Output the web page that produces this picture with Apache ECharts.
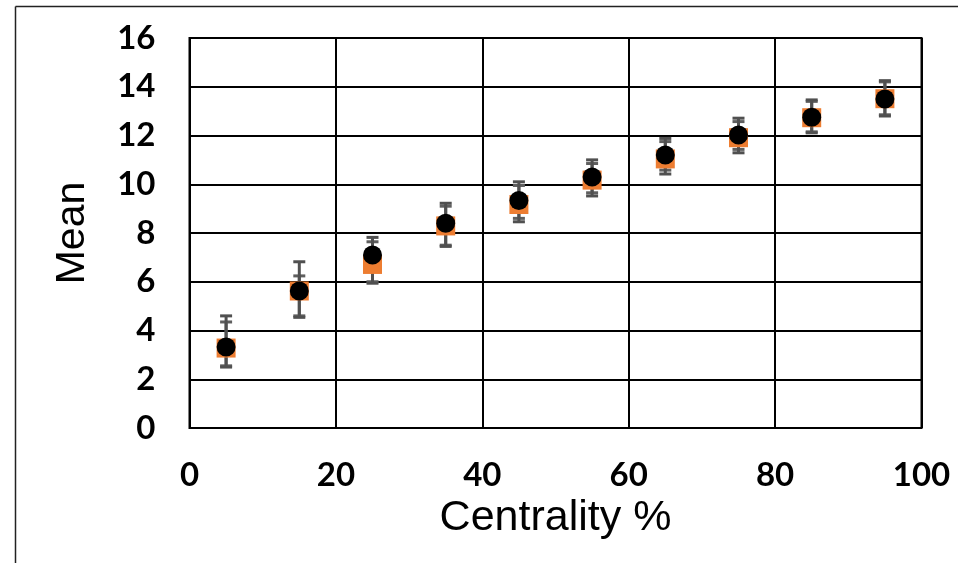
<!DOCTYPE html>
<html>
<head>
<meta charset="utf-8">
<script src="https://cdn.jsdelivr.net/npm/echarts@6/dist/echarts.min.js"></script>
<style>html,body{margin:0;padding:0;background:#fff}#c{width:958px;height:563px}</style>
</head>
<body>
<div id="c"></div>
<script>
var centrality = [5, 15, 25, 35, 45, 55, 65, 75, 85, 95];
var circleMean = [3.32, 5.62, 7.10, 8.40, 9.33, 10.30, 11.20, 12.02, 12.75, 13.50];
var circleLow  = [2.50, 4.54, 5.94, 7.45, 8.46, 9.52, 10.42, 11.29, 12.11, 12.80];
var circleHigh = [4.60, 6.82, 7.82, 9.22, 10.10, 11.00, 11.88, 12.71, 13.46, 14.25];
var squareMean = [3.28, 5.62, 6.71, 8.29, 9.17, 10.17, 11.04, 11.91, 12.73, 13.51];
var squareLow  = [2.55, 4.60, 6.00, 7.50, 8.60, 9.65, 10.58, 11.43, 12.15, 12.85];
var squareHigh = [4.35, 6.24, 7.64, 9.10, 9.95, 10.85, 11.75, 12.57, 13.40, 14.20];
var xTicks = [0, 20, 40, 60, 80, 100];
var yTicks = [0, 2, 4, 6, 8, 10, 12, 14, 16];

function zip(a, b) { return a.map(function (v, i) { return [v, b[i]]; }); }
function errData(low, high) { return centrality.map(function (x, i) { return [x, low[i], high[i]]; }); }

function errRender(color) {
  return function (params, api) {
    var x = api.value(0);
    var lo = api.coord([x, api.value(1)]);
    var hi = api.coord([x, api.value(2)]);
    var hw = 6;
    var st = { stroke: color, lineWidth: 3 };
    return {
      type: 'group',
      children: [
        { type: 'line', shape: { x1: lo[0], y1: lo[1], x2: hi[0], y2: hi[1] }, style: st },
        { type: 'line', shape: { x1: lo[0] - hw, y1: lo[1], x2: lo[0] + hw, y2: lo[1] }, style: st },
        { type: 'line', shape: { x1: hi[0] - hw, y1: hi[1], x2: hi[0] + hw, y2: hi[1] }, style: st }
      ]
    };
  };
}

var chart = echarts.init(document.getElementById('c'), null, { renderer: 'canvas' });
chart.setOption({
  animation: false,
  backgroundColor: '#ffffff',
  graphic: [
    { type: 'line', shape: { x1: 15.5, y1: 6.5, x2: 958, y2: 6.5 }, style: { stroke: '#222', lineWidth: 1.5 } },
    { type: 'line', shape: { x1: 15.5, y1: 6.5, x2: 15.5, y2: 563 }, style: { stroke: '#222', lineWidth: 1.5 } }
  ],
  grid: { left: 189.5, top: 38, right: 36.5, bottom: 135, show: true, borderColor: '#000', borderWidth: 2, containLabel: false },
  xAxis: {
    type: 'value', min: 0, max: 100, interval: 20,
    name: 'Centrality %', nameLocation: 'middle', nameGap: 64,
    nameTextStyle: { fontFamily: 'Liberation Sans', fontSize: 43, color: '#000' },
    axisLine: { show: false }, axisTick: { show: false },
    splitLine: { show: true, lineStyle: { color: '#000', width: 2 } },
    axisLabel: { fontFamily: 'Lato', fontWeight: 'bold', fontSize: 33, color: '#000', margin: 31,
      formatter: function (v) { return xTicks.indexOf(v) >= 0 ? String(v) : ''; } }
  },
  yAxis: {
    type: 'value', min: 0, max: 16, interval: 2,
    name: 'Mean', nameLocation: 'middle', nameGap: 96,
    nameTextStyle: { fontFamily: 'Liberation Sans', fontSize: 41, color: '#000' },
    axisLine: { show: false }, axisTick: { show: false },
    splitLine: { show: true, lineStyle: { color: '#000', width: 2 } },
    axisLabel: { fontFamily: 'Lato', fontWeight: 'bold', fontSize: 33, color: '#000', margin: 34,
      formatter: function (v) { return yTicks.indexOf(v) >= 0 ? String(v) : ''; } }
  },
  series: [
    { type: 'custom', name: 'sqErr', data: errData(squareLow, squareHigh), renderItem: errRender('#5f5f5f'), z: 3 },
    { type: 'custom', name: 'ciErr', data: errData(circleLow, circleHigh), renderItem: errRender('#505050'), z: 3 },
    { type: 'scatter', name: 'square', data: zip(centrality, squareMean), symbol: 'rect', symbolSize: 19,
      itemStyle: { color: '#ED7D31', opacity: 1 }, z: 4 },
    { type: 'scatter', name: 'circle', data: zip(centrality, circleMean), symbol: 'circle', symbolSize: 19,
      itemStyle: { color: '#000000', opacity: 1 }, z: 5 }
  ]
});
</script>
</body>
</html>
